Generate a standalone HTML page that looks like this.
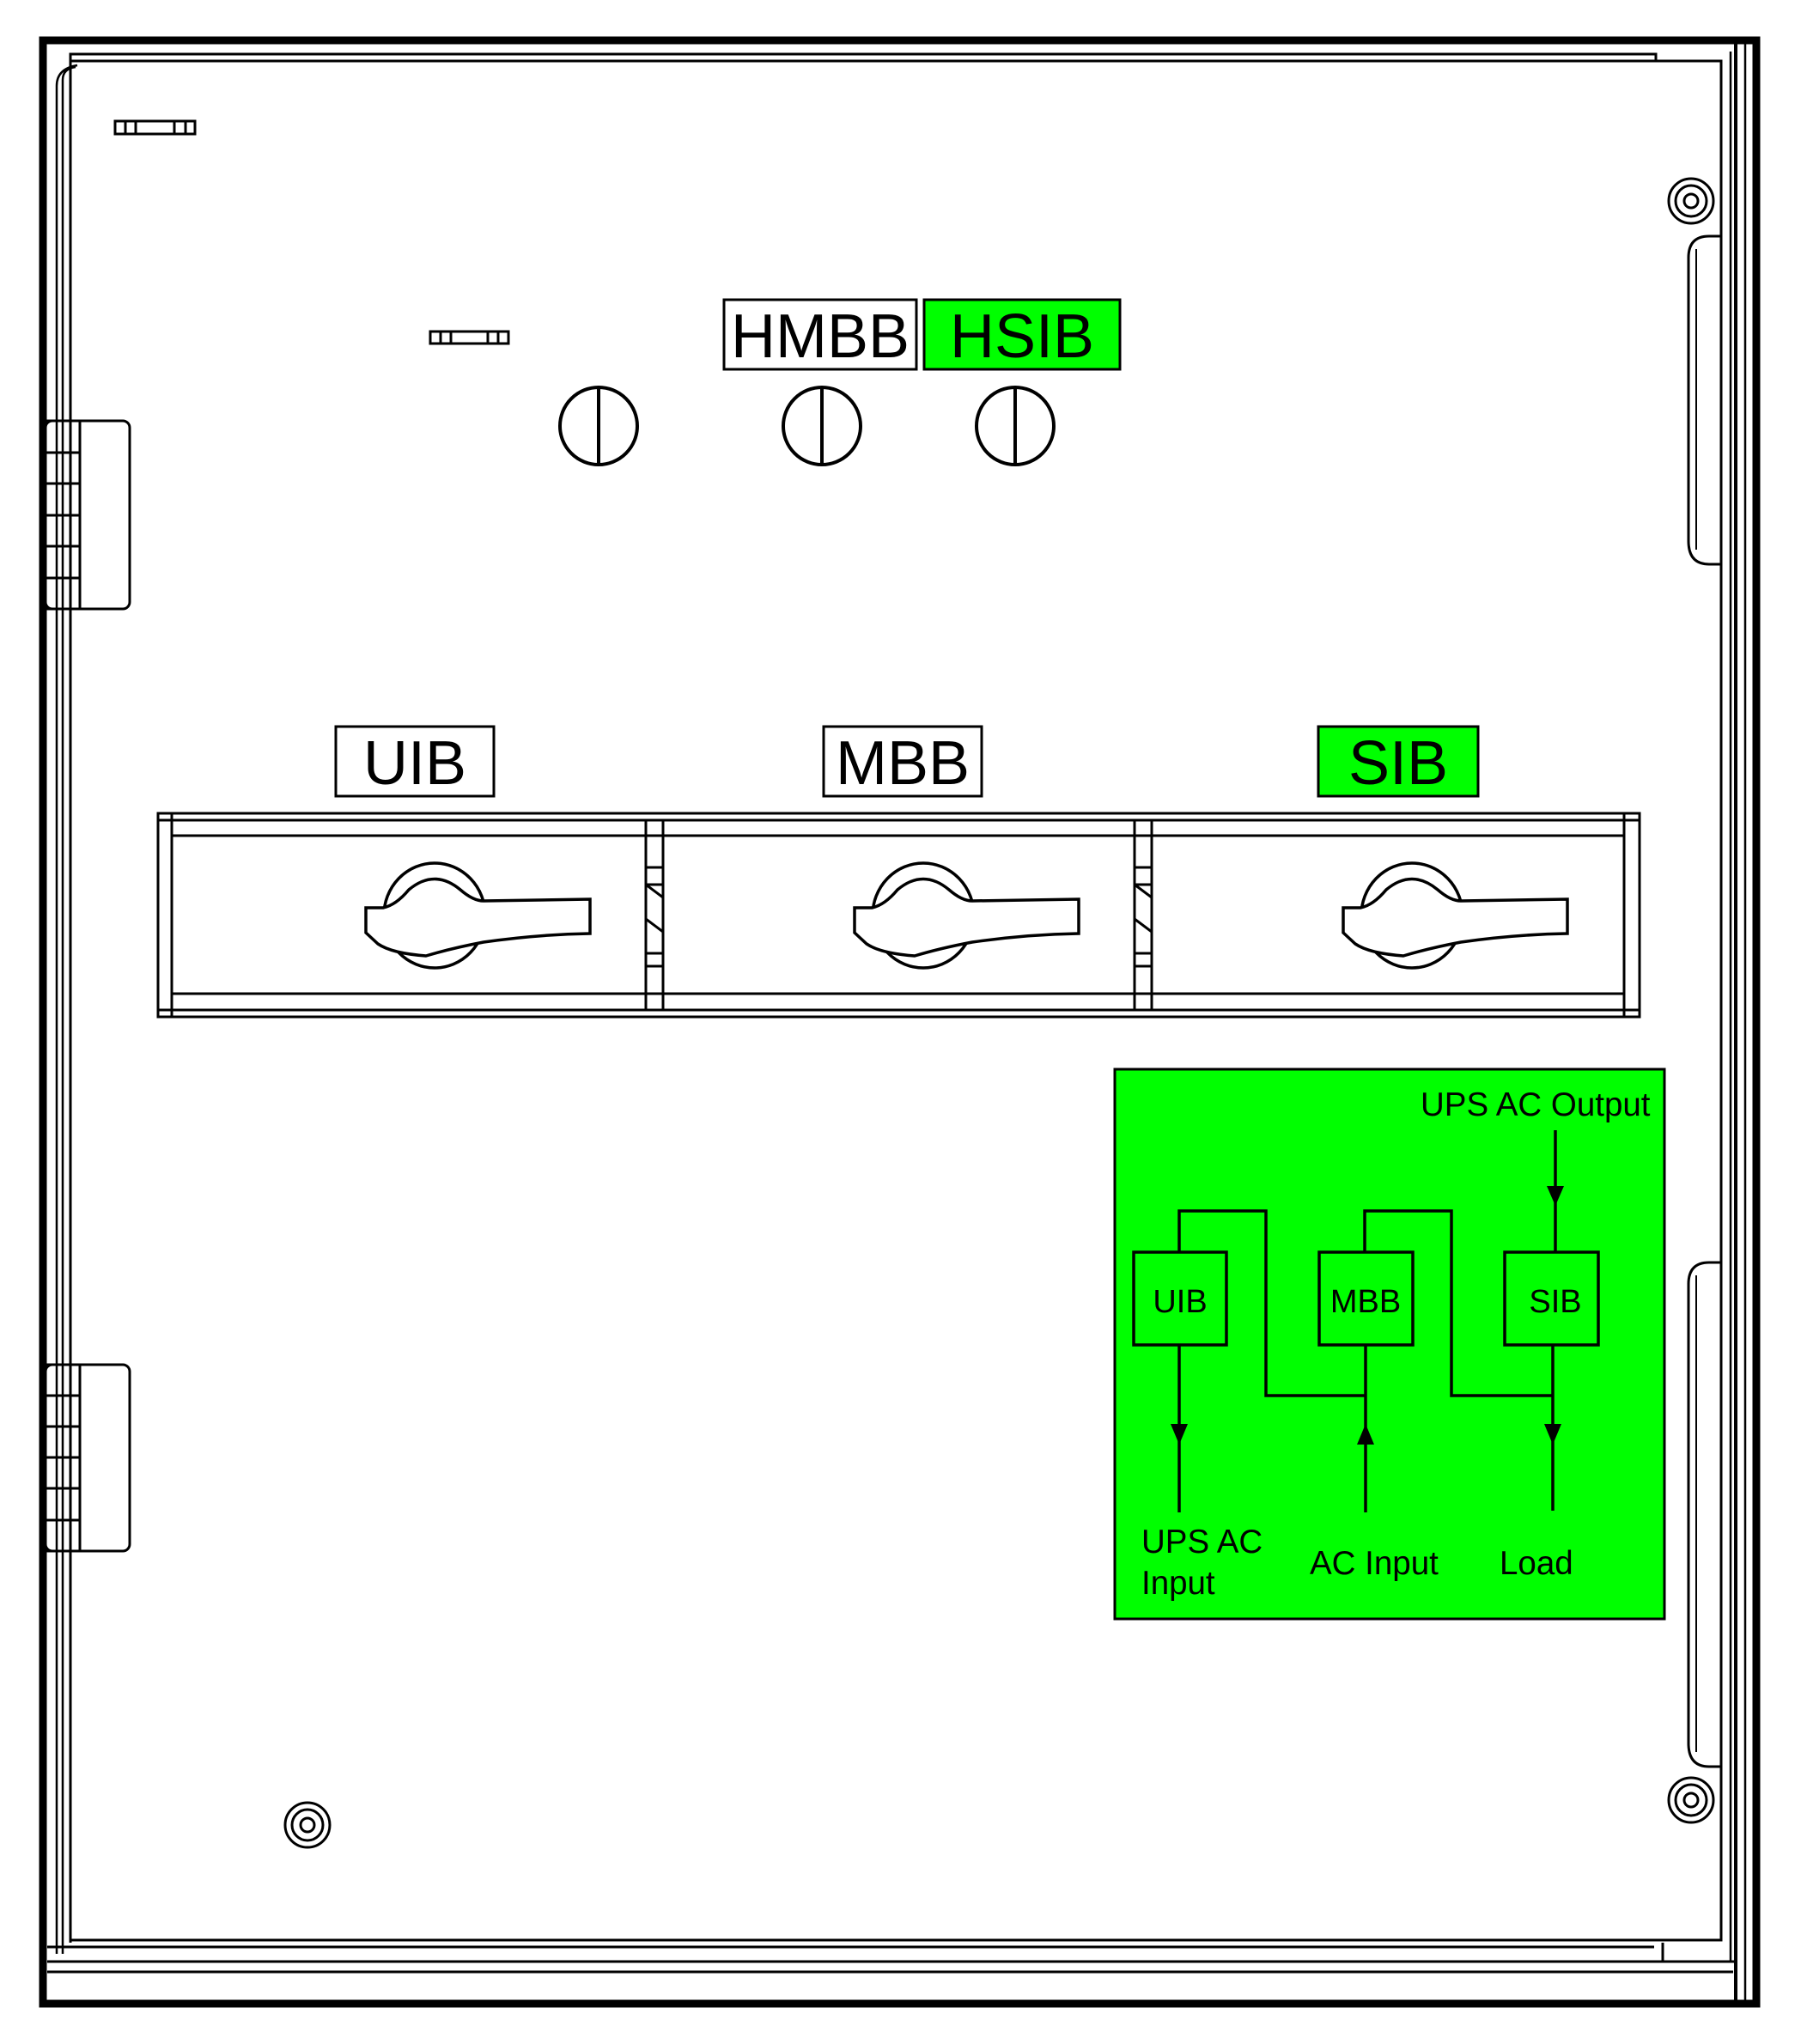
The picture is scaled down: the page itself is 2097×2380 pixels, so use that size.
<!DOCTYPE html>
<html><head><meta charset="utf-8"><style>
html,body{margin:0;padding:0;background:#fff}
svg{display:block}
text{font-family:"Liberation Sans",Arial,sans-serif}
</style></head><body>
<svg width="2097" height="2380" viewBox="0 0 2097 2380" xmlns="http://www.w3.org/2000/svg" fill="none" stroke="#000">
<!-- outer frame -->
<rect x="50" y="47" width="1995" height="2286" stroke-width="9"/>
<!-- door lines -->
<path d="M82,2262 V71 H2004 V2259 H82" stroke-width="3"/>
<path d="M82,71 V63 H1928 V71" stroke-width="3"/>
<path d="M73,2275 V93 Q73,80 88,78" stroke-width="2.5"/>
<path d="M66,2275 V100 Q66,80 90,76" stroke-width="2.5"/>
<line x1="2015" y1="60" x2="2015" y2="2284" stroke-width="2.5"/>
<line x1="2021" y1="50" x2="2021" y2="2330" stroke-width="4"/>
<line x1="2032" y1="50" x2="2032" y2="2330" stroke-width="2.5"/>
<line x1="55" y1="2267" x2="1926" y2="2267" stroke-width="3"/>
<line x1="55" y1="2284" x2="2020" y2="2284" stroke-width="3"/>
<line x1="55" y1="2296" x2="2018" y2="2296" stroke-width="3"/>
<line x1="1936" y1="2262" x2="1936" y2="2284" stroke-width="3"/>
<!-- slots -->
<g stroke-width="3">
<rect x="134" y="141" width="93" height="15"/>
<line x1="146" y1="141" x2="146" y2="156"/><line x1="158" y1="141" x2="158" y2="156"/>
<line x1="203" y1="141" x2="203" y2="156"/><line x1="216" y1="141" x2="216" y2="156"/>
<rect x="501" y="386" width="91" height="14"/>
<line x1="513" y1="386" x2="513" y2="400"/><line x1="525" y1="386" x2="525" y2="400"/>
<line x1="568" y1="386" x2="568" y2="400"/><line x1="580" y1="386" x2="580" y2="400"/>
</g>
<!-- hinges -->
<g stroke-width="3">
<rect x="53" y="490" width="98" height="219" rx="8"/>
<rect x="53" y="490" width="40" height="219"/>
<line x1="53" y1="527" x2="93" y2="527"/><line x1="53" y1="563" x2="93" y2="563"/>
<line x1="53" y1="600" x2="93" y2="600"/><line x1="53" y1="636" x2="93" y2="636"/><line x1="53" y1="673" x2="93" y2="673"/>
<rect x="53" y="1589" width="98" height="217" rx="8"/>
<rect x="53" y="1589" width="40" height="217"/>
<line x1="53" y1="1625" x2="93" y2="1625"/><line x1="53" y1="1661" x2="93" y2="1661"/>
<line x1="53" y1="1697" x2="93" y2="1697"/><line x1="53" y1="1733" x2="93" y2="1733"/><line x1="53" y1="1770" x2="93" y2="1770"/>
</g>
<!-- right recesses -->
<path d="M2004,275 H1990 Q1966,275 1966,300 V630 Q1966,657 1990,657 H2004" stroke-width="3"/>
<path d="M1975,290 V640" stroke-width="2"/>
<path d="M2004,1470 H1990 Q1966,1470 1966,1495 V2030 Q1966,2057 1990,2057 H2004" stroke-width="3"/>
<path d="M1975,1485 V2040" stroke-width="2"/>
<!-- screws -->
<g stroke-width="3">
<circle cx="1969" cy="234" r="26"/><circle cx="1969" cy="234" r="18"/><circle cx="1969" cy="234" r="8"/>
<circle cx="1969" cy="2096" r="26"/><circle cx="1969" cy="2096" r="18"/><circle cx="1969" cy="2096" r="8"/>
<circle cx="358" cy="2125" r="26"/><circle cx="358" cy="2125" r="18"/><circle cx="358" cy="2125" r="8"/>
</g>
<!-- top labels -->
<rect x="843" y="349" width="224" height="81" fill="#fff" stroke-width="3"/>
<text x="955" y="416" font-size="72" fill="#000" stroke="none" text-anchor="middle">HMBB</text>
<rect x="1076" y="349" width="228" height="81" fill="#00ff00" stroke-width="3"/>
<text x="1190" y="416" font-size="72" fill="#000" stroke="none" text-anchor="middle">HSIB</text>
<!-- round knobs -->
<g stroke-width="4">
<circle cx="697" cy="496" r="45"/><line x1="697" y1="451" x2="697" y2="541"/>
<circle cx="957" cy="496" r="45"/><line x1="957" y1="451" x2="957" y2="541"/>
<circle cx="1182" cy="496" r="45"/><line x1="1182" y1="451" x2="1182" y2="541"/>
</g>
<!-- switch labels -->
<rect x="391" y="846" width="184" height="81" stroke-width="3"/>
<text x="483" y="913" font-size="72" fill="#000" stroke="none" text-anchor="middle">UIB</text>
<rect x="959" y="846" width="184" height="81" stroke-width="3"/>
<text x="1051" y="913" font-size="72" fill="#000" stroke="none" text-anchor="middle">MBB</text>
<rect x="1535" y="846" width="186" height="81" fill="#00ff00" stroke-width="3"/>
<text x="1628" y="913" font-size="72" fill="#000" stroke="none" text-anchor="middle">SIB</text>
<!-- switch panel -->
<g stroke-width="3">
<rect x="184" y="947" width="1725" height="237"/>
<line x1="200" y1="947" x2="200" y2="1184"/><line x1="1891" y1="947" x2="1891" y2="1184"/>
<line x1="184" y1="955" x2="1909" y2="955"/><line x1="200" y1="973" x2="1891" y2="973"/>
<line x1="200" y1="1157" x2="1891" y2="1157"/><line x1="184" y1="1176" x2="1909" y2="1176"/>
<line x1="752" y1="955" x2="752" y2="1176"/><line x1="772" y1="955" x2="772" y2="1176"/>
<line x1="1321" y1="955" x2="1321" y2="1176"/><line x1="1341" y1="955" x2="1341" y2="1176"/>
<line x1="752" y1="1010" x2="772" y2="1010"/><line x1="752" y1="1030" x2="772" y2="1030"/>
<line x1="752" y1="1110" x2="772" y2="1110"/><line x1="752" y1="1125" x2="772" y2="1125"/>
<line x1="1321" y1="1010" x2="1341" y2="1010"/><line x1="1321" y1="1030" x2="1341" y2="1030"/>
<line x1="1321" y1="1110" x2="1341" y2="1110"/><line x1="1321" y1="1125" x2="1341" y2="1125"/>
<line x1="752" y1="1030" x2="772" y2="1045"/><line x1="752" y1="1070" x2="772" y2="1085"/>
<line x1="1321" y1="1030" x2="1341" y2="1045"/><line x1="1321" y1="1070" x2="1341" y2="1085"/>
</g>
<!-- handles -->
<defs>
<g id="h" stroke-width="3.5">
<ellipse cx="0" cy="0" rx="59" ry="61" fill="#fff"/>
<path d="M-80,-9 L-60,-9 Q-45,-12 -30,-30 Q0,-55 30,-30 Q45,-17 57,-17 L181,-19 V21 Q120,22 57,31 Q20,38 -10,47 Q-50,44 -66,33 L-80,20 Z" fill="#fff"/>
</g>
</defs>
<use href="#h" x="506" y="1066"/>
<use href="#h" x="1075" y="1066"/>
<use href="#h" x="1644" y="1066"/>
<!-- green diagram -->
<rect x="1298" y="1245" width="640" height="640" fill="#00ff00" stroke-width="3"/>
<g stroke-width="3.5">
<rect x="1320" y="1458" width="108" height="108"/>
<rect x="1536" y="1458" width="109" height="108"/>
<rect x="1752" y="1458" width="109" height="108"/>
<path d="M1373,1458 V1410 H1474 V1625 H1590"/>
<path d="M1589,1458 V1410 H1690 V1625 H1808"/>
<path d="M1811,1316 V1458"/>
<path d="M1808,1566 V1759"/>
<path d="M1373,1566 V1761"/>
<path d="M1590,1566 V1761"/>
</g>
<g fill="#000" stroke="none">
<path d="M1801,1381 L1821,1381 L1811,1404 Z"/>
<path d="M1798,1658 L1818,1658 L1808,1682 Z"/>
<path d="M1363,1658 L1383,1658 L1373,1682 Z"/>
<path d="M1580,1682 L1600,1682 L1590,1658 Z"/>
<text x="1654" y="1299" font-size="38.5">UPS AC Output</text>
<text x="1374" y="1528" font-size="38" text-anchor="middle">UIB</text>
<text x="1590" y="1528" font-size="38" text-anchor="middle">MBB</text>
<text x="1811" y="1528" font-size="38" text-anchor="middle">SIB</text>
<text x="1329" y="1808" font-size="38.5">UPS AC</text>
<text x="1329" y="1856" font-size="38.5">Input</text>
<text x="1525" y="1833" font-size="38.5">AC Input</text>
<text x="1746" y="1833" font-size="38.5">Load</text>
</g>
</svg>
</body></html>
